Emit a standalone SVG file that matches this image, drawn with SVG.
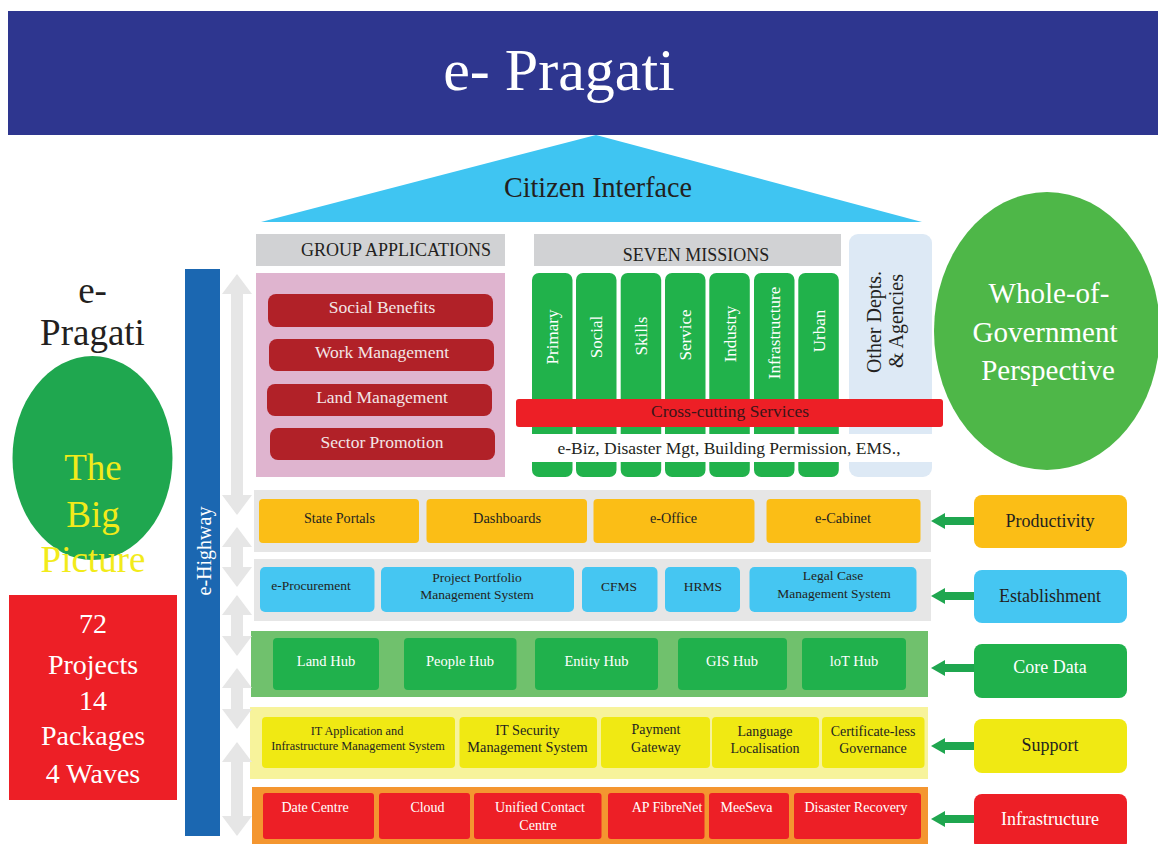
<svg xmlns="http://www.w3.org/2000/svg" width="1158" height="844" viewBox="0 0 1158 844">
<style>
text{font-family:"Liberation Serif","DejaVu Serif",serif;text-anchor:middle}
.dk{fill:#231f20}
.wh{fill:#ffffff}
.lw{fill:#f3e6e6}
.ga{fill:#e6e6e6}
.hdr{fill:#d1d2d4}
.gbtn{fill:#b12128}
.mis{fill:#21b24b}
.yel{fill:#fbbe16}
.blu{fill:#45c6f2}
.grn{fill:#20b14c}
.sup{fill:#f0e913}
.red{fill:#ed1f26}
.garr{fill:#1fa64f}
.vt{font-size:17px;fill:#ffffff}
.r1{font-size:14px}
.r2{font-size:13.5px}
.lab{font-size:18px}
</style>
<rect width="1158" height="844" fill="#ffffff"/>

<g id="title">
<rect x="8" y="11" width="1150" height="124" fill="#2e368f"/>
<text x="559" y="90" class="wh" font-size="60">e- Pragati</text>
</g>

<g id="citizen-interface">
<polygon points="596,135 922,222 261,222" fill="#3fc5f2"/>
<text x="598" y="197" class="dk" font-size="29" textLength="188" lengthAdjust="spacingAndGlyphs">Citizen Interface</text>
</g>

<g id="left-title">
<text x="92.5" y="303" class="dk" font-size="37">e-</text>
<text x="92.5" y="345" class="dk" font-size="37">Pragati</text>
</g>

<g id="big-picture">
<ellipse cx="92.5" cy="458" rx="80" ry="102" fill="#1fa74f"/>
<text x="93" y="480" font-size="37" fill="#f2eb1a">The</text>
<text x="93" y="527" font-size="37" fill="#f2eb1a">Big</text>
<text x="93" y="572" font-size="37" fill="#f2eb1a">Picture</text>
</g>

<g id="projects">
<rect x="9" y="595" width="168" height="205" class="red"/>
<text x="93" y="633" class="wh" font-size="28">72</text>
<text x="93" y="674" class="wh" font-size="28">Projects</text>
<text x="93" y="710" class="wh" font-size="28">14</text>
<text x="93" y="745" class="wh" font-size="28">Packages</text>
<text x="93" y="783" class="wh" font-size="28">4 Waves</text>
</g>

<g id="e-highway">
<rect x="185" y="269" width="35" height="567" fill="#1b67b1"/>
<text transform="translate(204,551) rotate(-90)" dy="0.35em" class="wh" font-size="20">e-Highway</text>
</g>

<g id="group-applications">
<rect x="256" y="234" width="249" height="32" class="hdr"/>
<text x="396" y="256" class="dk" font-size="18">GROUP APPLICATIONS</text>
<rect x="256" y="273" width="249" height="204" fill="#dfb4cf"/>
<rect x="268" y="294" width="225" height="33" rx="8" class="gbtn"/>
<text x="382" y="313" class="lw" font-size="17.5">Social Benefits</text>
<rect x="269" y="339" width="225" height="32" rx="8" class="gbtn"/>
<text x="382" y="358" class="lw" font-size="17.5">Work Management</text>
<rect x="267" y="384" width="225" height="32" rx="8" class="gbtn"/>
<text x="382" y="403" class="lw" font-size="17.5">Land Management</text>
<rect x="270" y="428" width="225" height="32" rx="8" class="gbtn"/>
<text x="382" y="448" class="lw" font-size="17.5">Sector Promotion</text>
</g>

<g id="seven-missions">
<rect x="534" y="234" width="307" height="32" class="hdr"/>
<text x="696" y="261" class="dk" font-size="18">SEVEN MISSIONS</text>
<rect x="532" y="273" width="40.5" height="204" rx="7" class="mis"/>
<rect x="576" y="273" width="40.5" height="204" rx="7" class="mis"/>
<rect x="620.7" y="273" width="40.5" height="204" rx="7" class="mis"/>
<rect x="665" y="273" width="40.5" height="204" rx="7" class="mis"/>
<rect x="709.3" y="273" width="40.5" height="204" rx="7" class="mis"/>
<rect x="754" y="273" width="40.5" height="204" rx="7" class="mis"/>
<rect x="798.3" y="273" width="40.5" height="204" rx="7" class="mis"/>
<text transform="translate(552,337) rotate(-90)" dy="0.35em" class="vt">Primary</text>
<text transform="translate(596.3,337) rotate(-90)" dy="0.35em" class="vt">Social</text>
<text transform="translate(640.8,336) rotate(-90)" dy="0.35em" class="vt">Skills</text>
<text transform="translate(685.3,335) rotate(-90)" dy="0.35em" class="vt">Service</text>
<text transform="translate(729.7,334) rotate(-90)" dy="0.35em" class="vt">Industry</text>
<text transform="translate(774.3,333) rotate(-90)" dy="0.35em" class="vt">Infrastructure</text>
<text transform="translate(818.8,331) rotate(-90)" dy="0.35em" class="vt">Urban</text>
</g>

<g id="other-depts">
<rect x="849" y="234" width="83" height="243" rx="9" fill="#dde9f5"/>
<text transform="translate(874,322) rotate(-90)" dy="0.35em" class="dk" font-size="20">Other Depts.</text>
<text transform="translate(896,321) rotate(-90)" dy="0.35em" class="dk" font-size="20">&amp; Agencies</text>
</g>

<g id="cross-cutting">
<rect x="530" y="434" width="403" height="28" fill="#ffffff"/>
<text x="729" y="454" class="dk" font-size="17.5">e-Biz, Disaster Mgt, Building Permission, EMS.,</text>
<rect x="516" y="399" width="427" height="28" rx="3" class="red"/>
<text x="730" y="417" font-size="17.5" fill="#3a1518">Cross-cutting Services</text>
</g>

<g id="whole-of-government">
<ellipse cx="1047" cy="331" rx="113" ry="139" fill="#4eb748"/>
<text x="1049" y="303" class="wh" font-size="29">Whole-of-</text>
<text x="1045" y="342" class="wh" font-size="29">Government</text>
<text x="1048" y="380" class="wh" font-size="29">Perspective</text>
</g>

<g id="productivity-layer">
<rect x="254" y="490" width="677" height="62" class="ga"/>
<rect x="259" y="499" width="160" height="44" rx="4" class="yel"/>
<text x="339.5" y="523" class="dk r1" textLength="71" lengthAdjust="spacingAndGlyphs">State Portals</text>
<rect x="426.5" y="499" width="160.5" height="44" rx="4" class="yel"/>
<text x="507" y="523" class="dk r1" textLength="68" lengthAdjust="spacingAndGlyphs">Dashboards</text>
<rect x="593.5" y="499" width="161" height="44" rx="4" class="yel"/>
<text x="673.5" y="523" class="dk r1" textLength="47" lengthAdjust="spacingAndGlyphs">e-Office</text>
<rect x="766.5" y="499" width="154" height="44" rx="4" class="yel"/>
<text x="843" y="523" class="dk r1" textLength="56" lengthAdjust="spacingAndGlyphs">e-Cabinet</text>
</g>

<g id="establishment-layer">
<rect x="254" y="559" width="677" height="62" class="ga"/>
<rect x="260" y="567" width="114.5" height="45" rx="5" class="blu"/>
<text x="311" y="590" class="dk r2">e-Procurement</text>
<rect x="381" y="567" width="193" height="45" rx="5" class="blu"/>
<text x="477" y="582" class="dk r2">Project Portfolio</text>
<text x="477" y="599" class="dk r2">Management System</text>
<rect x="582" y="567" width="75.5" height="45" rx="5" class="blu"/>
<text x="619" y="591" class="dk r2">CFMS</text>
<rect x="665" y="567" width="75" height="45" rx="5" class="blu"/>
<text x="703" y="591" class="dk r2">HRMS</text>
<rect x="749.5" y="567" width="167" height="45" rx="5" class="blu"/>
<text x="833" y="580" class="dk r2">Legal Case</text>
<text x="834" y="598" class="dk r2">Management System</text>
</g>

<g id="core-data-layer">
<rect x="251" y="631" width="677" height="66" fill="#70c16d"/>
<rect x="273" y="638" width="106" height="52" rx="4" class="grn"/>
<text x="326" y="666" class="wh" font-size="14.5">Land Hub</text>
<rect x="404" y="638" width="112.5" height="52" rx="4" class="grn"/>
<text x="460" y="666" class="wh" font-size="14.5">People Hub</text>
<rect x="535" y="638" width="123" height="52" rx="4" class="grn"/>
<text x="596.5" y="666" class="wh" font-size="14.5">Entity Hub</text>
<rect x="678" y="638" width="109" height="52" rx="4" class="grn"/>
<text x="732" y="666" class="wh" font-size="14.5">GIS Hub</text>
<rect x="802" y="638" width="104" height="52" rx="4" class="grn"/>
<text x="854" y="666" class="wh" font-size="14.5">loT Hub</text>
</g>

<g id="support-layer">
<rect x="250" y="707" width="678" height="72" fill="#f7f39b"/>
<rect x="262" y="717" width="193" height="51" rx="4" class="sup"/>
<text x="357" y="735" class="dk" font-size="12.3">IT Application and</text>
<text x="358" y="750" class="dk" font-size="12.3">Infrastructure Management System</text>
<rect x="459.5" y="717" width="137.5" height="51" rx="4" class="sup"/>
<text x="527.5" y="735" class="dk" font-size="14.3">IT Security</text>
<text x="527.5" y="752" class="dk" font-size="14.3">Management System</text>
<rect x="601" y="717" width="109" height="51" rx="4" class="sup"/>
<text x="656" y="734" class="dk" font-size="14">Payment</text>
<text x="656" y="752" class="dk" font-size="14">Gateway</text>
<rect x="712" y="717" width="107" height="51" rx="4" class="sup"/>
<text x="765" y="736" class="dk" font-size="14">Language</text>
<text x="765" y="753" class="dk" font-size="14">Localisation</text>
<rect x="822" y="717" width="102.5" height="51" rx="4" class="sup"/>
<text x="873" y="736" class="dk" font-size="14">Certificate-less</text>
<text x="873" y="753" class="dk" font-size="14">Governance</text>
</g>

<g id="infrastructure-layer">
<rect x="252" y="787" width="676" height="57" fill="#f49630"/>
<rect x="263" y="793" width="111" height="46" rx="3" class="red"/>
<text x="315" y="812" class="wh" font-size="14">Date Centre</text>
<rect x="379" y="793" width="91" height="46" rx="3" class="red"/>
<text x="427.5" y="812" class="wh" font-size="14">Cloud</text>
<rect x="474" y="793" width="127.5" height="46" rx="3" class="red"/>
<text x="540" y="812" class="wh" font-size="14">Unified Contact</text>
<text x="538" y="830" class="wh" font-size="14">Centre</text>
<rect x="608" y="793" width="96.5" height="46" rx="3" class="red"/>
<text x="667" y="812" class="wh" font-size="14">AP FibreNet</text>
<rect x="709" y="793" width="80" height="46" rx="3" class="red"/>
<text x="746.5" y="812" class="wh" font-size="14">MeeSeva</text>
<rect x="794" y="793" width="127" height="46" rx="3" class="red"/>
<text x="856" y="812" class="wh" font-size="14">Disaster Recovery</text>
</g>

<g id="label-productivity">
<rect x="974" y="495" width="153" height="53" rx="8" class="yel"/>
<text x="1050" y="527" class="dk lab">Productivity</text>
</g>
<g id="label-establishment">
<rect x="974" y="570" width="153" height="53" rx="8" class="blu"/>
<text x="1050" y="602" class="dk lab">Establishment</text>
</g>
<g id="label-core-data">
<rect x="974" y="644" width="153" height="54" rx="8" class="grn"/>
<text x="1050" y="673" class="wh lab">Core Data</text>
</g>
<g id="label-support">
<rect x="974" y="719" width="153" height="54" rx="8" class="sup"/>
<text x="1050" y="751" class="dk lab">Support</text>
</g>
<g id="label-infrastructure">
<rect x="974" y="794" width="153" height="56" rx="8" class="red"/>
<text x="1050" y="825" class="wh lab">Infrastructure</text>
</g>

<g id="connectors">
<polygon class="ga" points="237,274 252,294 243,294 243,495 252,495 237,515 222,495 231,495 231,294 222,294"/>
<polygon class="ga" points="237,527 252,547 243,547 243,567 252,567 237,587 222,567 231,567 231,547 222,547"/>
<polygon class="ga" points="237,595 252,615 243,615 243,636 252,636 237,656 222,636 231,636 231,615 222,615"/>
<polygon class="ga" points="237,668 252,688 243,688 243,709 252,709 237,729 222,709 231,709 231,688 222,688"/>
<polygon class="ga" points="237,742 252,762 243,762 243,816 252,816 237,836 222,816 231,816 231,762 222,762"/>
<polygon class="garr" points="931,521 945,513 945,517 974,517 974,525 945,525 945,529"/>
<polygon class="garr" points="931,596 945,588 945,592 974,592 974,600 945,600 945,604"/>
<polygon class="garr" points="931,668 945,660 945,664 974,664 974,672 945,672 945,676"/>
<polygon class="garr" points="931,746 945,738 945,742 974,742 974,750 945,750 945,754"/>
<polygon class="garr" points="931,819 945,811 945,815 974,815 974,823 945,823 945,827"/>
</g>
</svg>
